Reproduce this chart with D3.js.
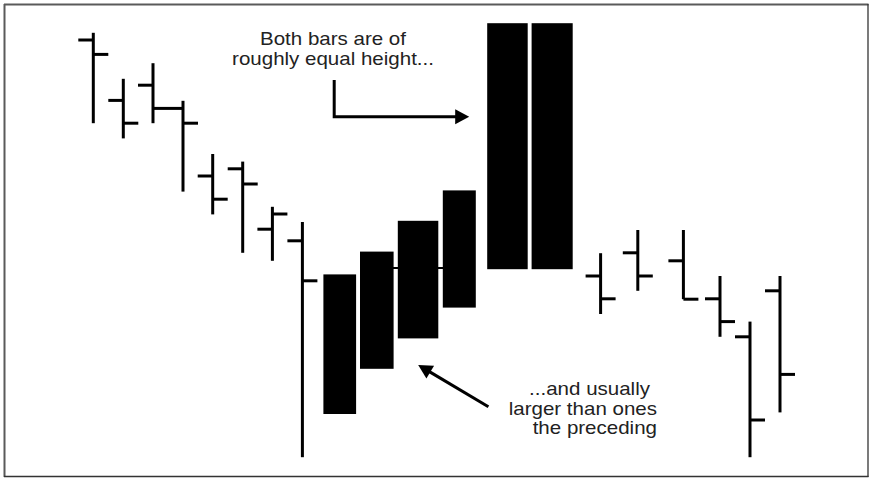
<!DOCTYPE html>
<html>
<head>
<meta charset="utf-8">
<script src="https://cdn.jsdelivr.net/npm/d3@7"></script>
<style>
  html, body { margin: 0; padding: 0; background: #fff; }
  svg { display: block; }
  text { font-family: "Liberation Sans", Arial, sans-serif; }
</style>
</head>
<body>
<svg id="chart" width="873" height="478"></svg>
<script>
// ---- data (time index t, prices) ----
const barT     = [0, 1, 1.99, 2.99, 3.98, 4.98, 5.97, 6.97, 16.91, 18.15, 19.67, 20.89, 21.89, 22.89];
const barOpen  = [105, 89.9, 93.7, 87.9, 71, 72.8, 57.7, 54.8, 46, 51.8, 49.8, 40.3, 30.8, 42.3];
const barHigh  = [106.8, 95.3, 99.2, 89.8, 76.5, 74.6, 63.3, 59.5, 51.7, 57.5, 57.5, 46, 34.6, 46];
const barLow   = [84.2, 80.4, 84.2, 67.1, 61.4, 51.8, 49.8, 0.7, 36.5, 42.3, 40.2, 30.8, 0.7, 11.9];
const barClose = [101.4, 84.2, 87.9, 84.2, 65.2, 69, 61.5, 44.8, 40.3, 46, 40.2, 34.6, 10, 21.4];

// wide-range bars (time span start/end, price top/bottom)
const bodyT0     = [7.67, 8.89, 10.15, 11.65, 13.13, 14.61];
const bodyT1     = [8.76, 10.01, 11.5, 12.75, 14.48, 15.98];
const bodyTop    = [46.4, 52.1, 59.8, 67.4, 109.2, 109.2];
const bodyBottom = [11.5, 22.8, 30.4, 38.1, 47.7, 47.7];

// connecting tick hidden between bodies
const linkT0 = [9.99];
const linkT1 = [11.66];
const linkP  = [48];

// annotations
const note1Lines = ["Both bars are of", "roughly equal height..."];
const note2Lines = ["...and usually", "larger than ones", "the preceding"];
const arrow1 = [[8.03, 95], [8.03, 85.8], [12.53, 85.8]];
const arrow2 = [[13.17, 13.3], [10.83, 23.75]];

// ---- drawing ----
const svg = d3.select("#chart");
const x = d3.scaleLinear().domain([0, 23]).range([93.3, 783.3]);
const y = d3.scaleLinear().domain([0, 110]).range([460, 20]);
const tick = 15;

// frame
svg.append("line").attr("x1", 4.5).attr("y1", 4).attr("x2", 4.5).attr("y2", 477).attr("stroke", "#5a5a5a").attr("stroke-width", 2);
svg.append("line").attr("x1", 4).attr("y1", 4.5).attr("x2", 868.5).attr("y2", 4.5).attr("stroke", "#5a5a5a").attr("stroke-width", 2);
svg.append("line").attr("x1", 868).attr("y1", 4).attr("x2", 868).attr("y2", 477).attr("stroke", "#333").attr("stroke-width", 1.3);
svg.append("line").attr("x1", 4).attr("y1", 476.5).attr("x2", 868.5).attr("y2", 476.5).attr("stroke", "#333").attr("stroke-width", 1.3);

const bars = barT.map((t, i) => ({t, o: barOpen[i], h: barHigh[i], l: barLow[i], c: barClose[i]}));
const g = svg.append("g").attr("stroke", "#000").attr("stroke-width", 3).attr("fill", "none");

// link line
linkT0.forEach((t0, i) => {
  g.append("line").attr("x1", x(t0)).attr("x2", x(linkT1[i]))
    .attr("y1", y(linkP[i])).attr("y2", y(linkP[i])).attr("stroke-width", 2);
});

const bg = g.selectAll("g.bar").data(bars).join("g").attr("class", "bar");
bg.append("line").attr("x1", d => x(d.t)).attr("x2", d => x(d.t))
  .attr("y1", d => y(d.h)).attr("y2", d => y(d.l));
bg.append("line").attr("x1", d => x(d.t) - tick).attr("x2", d => x(d.t))
  .attr("y1", d => y(d.o)).attr("y2", d => y(d.o));
bg.append("line").attr("x1", d => x(d.t)).attr("x2", d => x(d.t) + tick)
  .attr("y1", d => y(d.c)).attr("y2", d => y(d.c));

const bodies = bodyT0.map((t0, i) => ({t0, t1: bodyT1[i], top: bodyTop[i], bot: bodyBottom[i]}));
svg.selectAll("rect.body").data(bodies).join("rect").attr("class", "body")
  .attr("x", d => x(d.t0)).attr("width", d => x(d.t1) - x(d.t0))
  .attr("y", d => y(d.top)).attr("height", d => y(d.bot) - y(d.top))
  .attr("fill", "#000");

// arrows
function arrow(points) {
  const pts = points.map(p => [x(p[0]), y(p[1])]);
  const n = pts.length;
  const tip = pts[n - 1], prev = pts[n - 2];
  const ang = Math.atan2(tip[1] - prev[1], tip[0] - prev[0]);
  const len = 14, half = 7.5;
  const bx = tip[0] - len * Math.cos(ang), by = tip[1] - len * Math.sin(ang);
  const shaft = pts.slice(0, n - 1).concat([[bx + 2 * Math.cos(ang), by + 2 * Math.sin(ang)]]);
  svg.append("path").attr("d", d3.line()(shaft)).attr("fill", "none")
    .attr("stroke", "#000").attr("stroke-width", 3);
  const p1 = [bx + half * Math.sin(ang), by - half * Math.cos(ang)];
  const p2 = [bx - half * Math.sin(ang), by + half * Math.cos(ang)];
  svg.append("path").attr("d", "M" + tip + "L" + p1 + "L" + p2 + "Z").attr("fill", "#000");
}
arrow(arrow1);
arrow(arrow2);

// notes (font slightly widened to match the reference lettering)
const sx = 1.14;
svg.append("g").selectAll("text").data(note1Lines).join("text")
  .attr("transform", (d, i) => `translate(333,${45 + i * 20}) scale(${sx},1)`)
  .attr("text-anchor", "middle").attr("font-size", 18).attr("fill", "#222")
  .text(d => d);
svg.append("g").selectAll("text").data(note2Lines).join("text")
  .attr("transform", (d, i) => `translate(${i === 0 ? 650 : 657},${395 + i * 19.5}) scale(${sx},1)`)
  .attr("text-anchor", "end").attr("font-size", 18).attr("fill", "#222")
  .text(d => d);
</script>
</body>
</html>
